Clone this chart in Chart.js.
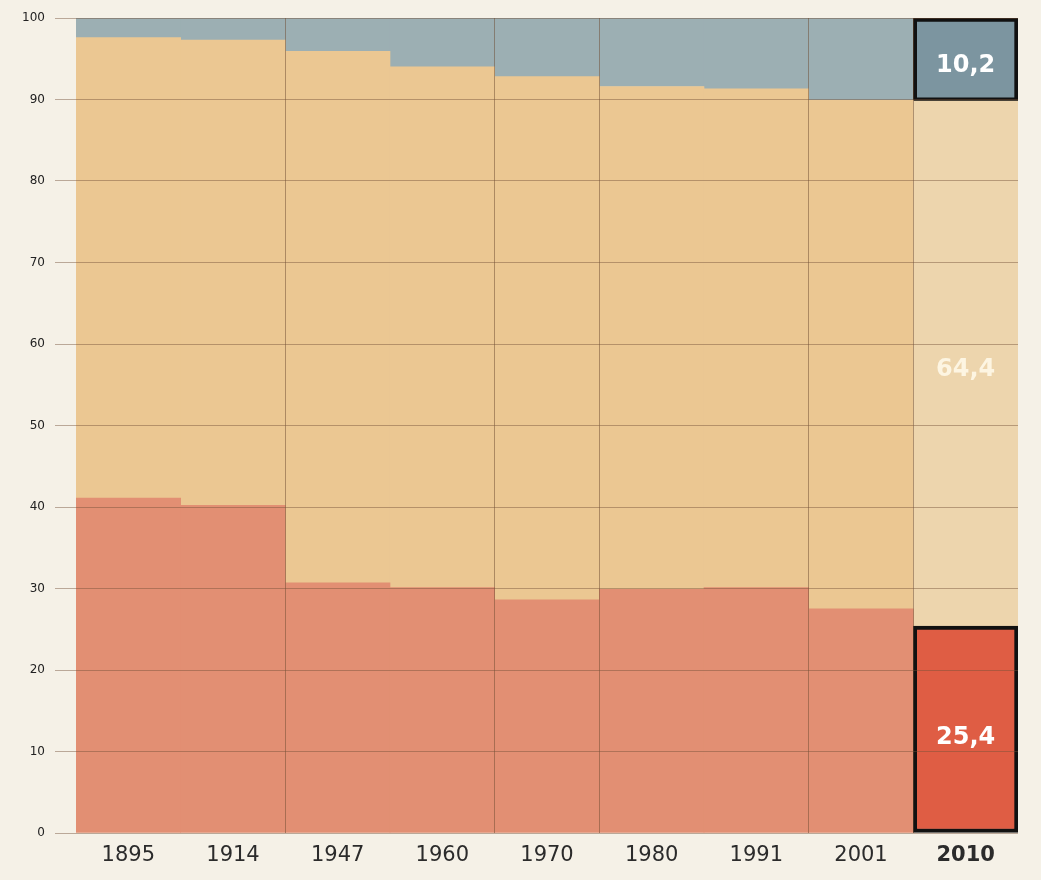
<!DOCTYPE html>
<html>
<head>
<meta charset="utf-8">
<script src="https://cdn.jsdelivr.net/npm/chart.js@4"></script>
<style>
  html, body { margin: 0; padding: 0; background: #f5f1e7; }
  #wrap { width: 1041px; height: 880px; position: relative; }
</style>
</head>
<body>
<div id="wrap"><canvas id="chart_canvas"></canvas></div>
<script>
const years = ['1895', '1914', '1947', '1960', '1970', '1980', '1991', '2001', '2010'];
const red_values = [41.1, 40.2, 30.7, 30.1, 28.6, 29.9, 30.1, 27.5, 25.4];
const orange_values = [56.5, 57.1, 65.2, 63.9, 64.2, 61.7, 61.2, 62.4, 64.4];
const blue_values = [2.4, 2.7, 4.1, 6.0, 7.2, 8.4, 8.7, 10.1, 10.2];
const y_ticks = [0, 10, 20, 30, 40, 50, 60, 70, 80, 90, 100];
// column borders that show a dark vertical line in the original
const divider_lines = [2, 4, 5, 7, 8];
const label_texts = ['25,4', '64,4', '10,2'];

const last = years.length - 1;

function per_bar(normal, highlight)
{
    return years.map((y, i) => i === last ? highlight : normal);
}

const value_labels =
{
    id: 'value_labels',
    afterDraw(chart)
    {
        const ctx = chart.ctx;
        const colors = ['#ffffff', 'rgba(255,250,235,0.85)', '#ffffff'];
        ctx.save();
        ctx.font = 'bold 24px "DejaVu Sans"';
        ctx.textAlign = 'center';
        ctx.textBaseline = 'middle';
        chart.data.datasets.forEach((ds, d) =>
        {
            const bar = chart.getDatasetMeta(d).data[last];
            const p = bar.getCenterPoint();
            ctx.fillStyle = colors[d];
            ctx.fillText(label_texts[d], p.x, p.y + (d === 0 ? 9 : 6));
        });
        ctx.restore();
    }
};

const data =
{
    labels: years,
    datasets:
        [{
            label: 'red',
            data: red_values,
            backgroundColor: per_bar('#e28f73', '#df5d44'),
            borderColor: '#111111',
            borderWidth: per_bar(0, 4),
            borderSkipped: false
        },
        {
            label: 'orange',
            data: orange_values,
            backgroundColor: per_bar('#ebc792', '#edd5ad'),
            borderWidth: 0
        },
        {
            label: 'blue',
            data: blue_values,
            backgroundColor: per_bar('#9cafb3', '#7c95a0'),
            borderColor: '#111111',
            borderWidth: per_bar(0, 4),
            borderSkipped: false
        }]
};

const config =
{
    type: 'bar',
    data,
    options:
    {
        responsive: true,
        maintainAspectRatio: false,
        animation: false,
        barPercentage: 1,
        categoryPercentage: 1,
        layout:
        {
            padding: { top: 18, right: 23, left: 0, bottom: 0 }
        },
        scales:
        {
            x:
            {
                stacked: true,
                border: { display: false },
                grid:
                {
                    z: 1,
                    offset: true,
                    drawTicks: false,
                    lineWidth: 1,
                    color: (c) => divider_lines.includes(c.index) ? 'rgba(110,75,50,0.5)' : 'rgba(0,0,0,0)'
                },
                ticks:
                {
                    padding: 10,
                    color: '#2b2b2b',
                    font: (c) => ({
                        family: '"DejaVu Sans"',
                        size: 21,
                        weight: c.index === last ? 'bold' : 'normal'
                    })
                },
                afterFit: (scale) => { scale.height = 47; }
            },
            y:
            {
                stacked: true,
                min: 0,
                max: 100,
                border: { display: false },
                afterBuildTicks: (scale) => { scale.ticks = y_ticks.map(v => ({ value: v })); },
                grid:
                {
                    z: 1,
                    color: 'rgba(115,80,55,0.45)',
                    lineWidth: 1,
                    tickLength: 21
                },
                ticks:
                {
                    padding: 10,
                    color: '#222222',
                    font: { family: '"DejaVu Sans"', size: 12 }
                },
                afterFit: (scale) => { scale.width = 76; }
            }
        },
        plugins:
        {
            legend: { display: false },
            tooltip: { enabled: false }
        }
    },
    plugins: [value_labels]
};

const my_chart = new Chart(document.querySelector('#chart_canvas'), config);
</script>
</body>
</html>
